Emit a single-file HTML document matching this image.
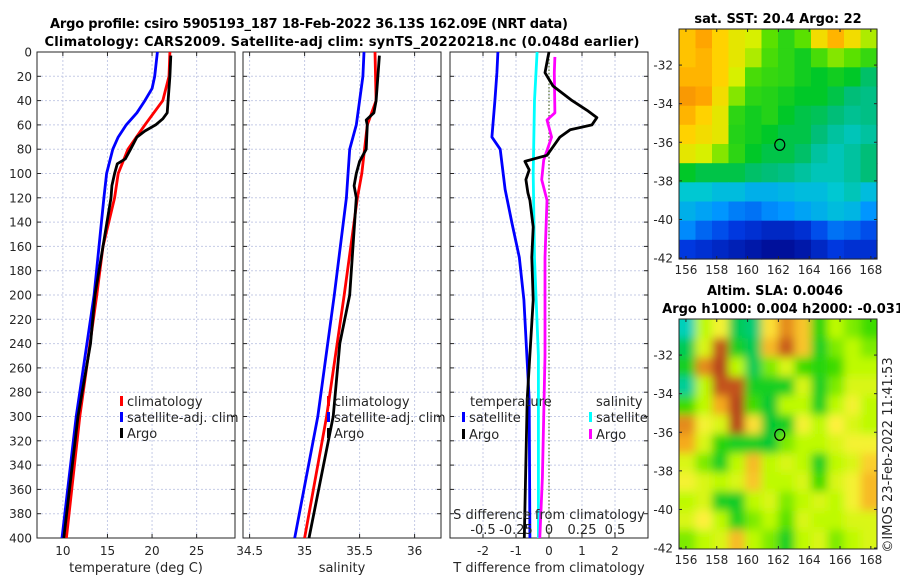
<!DOCTYPE html>
<html><head><meta charset="utf-8"><style>
html,body{margin:0;padding:0;background:#fff;}
svg{display:block;font-family:"DejaVu Sans","Liberation Sans",sans-serif;}
</style></head><body>
<svg id="chart" width="900" height="580" viewBox="0 0 900 580" xmlns="http://www.w3.org/2000/svg">
<defs>
<filter id="blur" x="0" y="0" width="1" height="1"><feGaussianBlur stdDeviation="4.5"/></filter>
<clipPath id="clipSla"><rect x="679" y="319" width="198" height="230"/></clipPath>
</defs>
<g id="layer"></g>
</svg>
<script>
// ----- profile data -----
const depthRed = [0,20,40,60,80,100,120,160,200,300,400];
const tempClim = [22.0,21.9,21.2,19.2,17.3,16.2,15.8,14.5,13.8,11.9,10.4];
const depthBlue = [0,20,30,40,50,60,70,80,100,120,200,300,400];
const tempSat = [20.6,20.3,20.0,19.2,18.3,17.1,16.2,15.6,14.9,14.6,13.5,11.5,9.9];
const depthArgo = [3,20,50,55,60,65,70,80,88,92,100,110,120,160,200,240,300,400];
const tempArgo = [22.1,22.0,21.7,21.2,20.4,19.2,18.3,17.6,17.0,16.1,15.8,15.5,15.4,14.5,13.6,13.1,11.7,10.1];

const salDepthClim = [0,40,60,100,120,200,300,400];
const salClim = [35.64,35.65,35.57,35.52,35.48,35.36,35.2,35.0];
const salDepthSat = [0,20,60,80,120,200,300,400];
const salSat = [35.54,35.53,35.47,35.41,35.38,35.27,35.12,34.91];
const salDepthArgo = [3,40,50,56,60,80,90,100,110,120,200,240,300,400];
const salArgo = [35.68,35.65,35.63,35.56,35.57,35.56,35.50,35.47,35.45,35.47,35.41,35.32,35.26,35.04];

const dDepthTsat = [0,17,40,70,80,113,141,169,204,286,400];
const dTsat = [-1.55,-1.58,-1.64,-1.73,-1.48,-1.33,-1.12,-0.9,-0.76,-0.6,-0.58];
const dDepthTargo = [0,4,17,28,40,48,54,60,64,70,85,90,97,105,116,122,144,169,204,286,400];
const dTargo = [0,-0.03,-0.12,0.12,0.7,1.15,1.45,1.3,0.64,0.33,-0.06,-0.73,-0.6,-0.7,-0.64,-0.58,-0.48,-0.52,-0.48,-0.66,-0.75];
const dDepthSsat = [0,40,100,170,250,330,400];
const dSsat = [-0.09,-0.11,-0.12,-0.11,-0.08,-0.08,-0.08];
const dDepthSargo = [4,17,50,56,70,89,105,122,169,250,300,350,400];
const dSargo = [0.045,0.04,0.045,-0.015,0.02,-0.04,-0.055,-0.015,-0.03,-0.03,-0.04,-0.05,-0.07];

const depthTicks = [0,20,40,60,80,100,120,140,160,180,200,220,240,260,280,300,320,340,360,380,400];
const tempTicks = [10,15,20,25];
const salTicks = [34.5,35,35.5,36];
const dTTicks = [-2,-1,0,1,2];
const dSTicks = [-0.5,-0.25,0,0.25,0.5];
const dSTickLabels = ["-0.5","-0.25","0","0.25","0.5"];

// ----- map data (colormap index 0..1) -----
const lonTicks = [156,158,160,162,164,166,168];
const latTicks = [-32,-34,-36,-38,-40,-42];
const sstGrid = [
[.74,.78,.72,.68,.66,.6,.55,.6,.7,.76,.7,.64],
[.74,.76,.72,.68,.64,.58,.55,.52,.58,.62,.6,.56],
[.76,.76,.72,.66,.58,.56,.55,.52,.5,.52,.5,.46],
[.8,.78,.7,.62,.55,.54,.52,.5,.5,.48,.45,.44],
[.76,.72,.68,.55,.52,.54,.5,.48,.47,.45,.43,.44],
[.72,.7,.68,.54,.52,.5,.48,.48,.45,.42,.4,.42],
[.68,.66,.62,.55,.5,.48,.48,.46,.42,.4,.42,.45],
[.5,.48,.48,.48,.46,.45,.44,.42,.4,.4,.42,.45],
[.38,.38,.36,.36,.34,.34,.35,.36,.36,.38,.4,.36],
[.34,.32,.3,.26,.24,.28,.3,.32,.34,.36,.35,.3],
[.28,.22,.18,.14,.12,.1,.1,.12,.18,.24,.22,.18],
[.14,.12,.1,.08,.06,.04,.04,.06,.1,.14,.12,.12]];
const slaGrid = [
[.05,.5,.6,.2,.15,.65,.8,.7,.35,.5,.45,.4],
[.2,.55,.9,.3,.2,.72,.88,.7,.3,.45,.5,.45],
[.3,.8,.95,.5,.2,.45,.55,.4,.35,.4,.5,.5],
[.1,.5,.9,.9,.3,.3,.3,.55,.3,.45,.55,.55],
[.4,.5,.75,.95,.4,.25,.5,.5,.3,.5,.6,.5],
[.8,.6,.55,.95,.65,.25,.3,.6,.5,.62,.55,.5],
[.75,.55,.35,.3,.3,.25,.45,.5,.5,.55,.6,.6],
[.55,.45,.3,.5,.72,.5,.55,.5,.3,.5,.55,.68],
[.6,.55,.5,.55,.7,.5,.5,.55,.4,.55,.6,.72],
[.5,.55,.3,.28,.5,.55,.45,.5,.55,.5,.6,.72],
[.55,.62,.5,.32,.45,.5,.42,.55,.5,.5,.55,.55],
[.45,.5,.55,.72,.5,.45,.3,.5,.55,.45,.5,.55]];
const argoLon = 162.09, argoLat = -36.13;

const NS = "http://www.w3.org/2000/svg";
const root = document.getElementById('layer');
function mk(tag, attrs, parent){const e=document.createElementNS(NS,tag);for(const k in attrs)e.setAttribute(k,attrs[k]);(parent||root).appendChild(e);return e;}
function txt(s,x,y,attrs,parent){const e=mk('text',Object.assign({x:x,y:y,'font-size':12,fill:'#262626'},attrs||{}),parent);e.textContent=s;return e;}

const PT=52, PB=538;
const yD = d => PT + (d/400)*(PB-PT);
const panels = [
 {name:'temperature-panel',x0:37,x1:235,min:7.1,max:29.3,ticks:tempTicks,labels:tempTicks.map(String),title:'temperature (deg C)'},
 {name:'salinity-panel',x0:243,x1:441,min:34.44,max:36.24,ticks:salTicks,labels:['34.5','35','35.5','36'],title:'salinity'},
 {name:'difference-panel',x0:450,x1:648,min:-3,max:3,ticks:dTTicks,labels:dTTicks.map(String),title:'T difference from climatology'}
];
panels.forEach(p=>{p.sx=v=>p.x0+(v-p.min)/(p.max-p.min)*(p.x1-p.x0);});

panels.forEach((p,i)=>{
  const g=mk('g',{});
  
  
  mk('rect',{x:p.x0,y:PT,width:p.x1-p.x0,height:PB-PT,fill:'#fff'},g);
  depthTicks.forEach(d=>{
    if(d>0&&d<400) mk('line',{x1:p.x0,x2:p.x1,y1:yD(d),y2:yD(d),stroke:'#c5cbe6','stroke-width':1,'stroke-dasharray':'2,2'},g);
    mk('line',{x1:p.x0,x2:p.x0+4,y1:yD(d),y2:yD(d),stroke:'#262626'},g);
    mk('line',{x1:p.x1,x2:p.x1-4,y1:yD(d),y2:yD(d),stroke:'#262626'},g);
  });
  p.ticks.forEach((t,k)=>{
    const x=p.sx(t);
    mk('line',{x1:x,x2:x,y1:PT,y2:PB,stroke:'#c5cbe6','stroke-dasharray':'2,2'},g);
    mk('line',{x1:x,x2:x,y1:PB,y2:PB-4,stroke:'#262626'},g);
    mk('line',{x1:x,x2:x,y1:PT,y2:PT+4,stroke:'#262626'},g);
    const l=txt(p.labels[k],x,555,{'text-anchor':'middle'},g);
    
    
  });
  const t=txt(p.title,(p.x0+p.x1)/2,572,{'text-anchor':'middle','font-size':13},g);
  
  
  mk('rect',{x:p.x0,y:PT,width:p.x1-p.x0,height:PB-PT,fill:'none',stroke:'#262626','stroke-width':1},g);
});
depthTicks.forEach(d=>{
  const l=txt(String(d),32,yD(d)+4.5,{'text-anchor':'end'});
  
  
});
const zl=mk('line',{x1:panels[2].sx(0),x2:panels[2].sx(0),y1:PT,y2:PB,stroke:'#556b2f','stroke-width':1.2,'stroke-dasharray':'1.5,2'});



function line(name,depths,vals,sx,color){
  const pts=depths.map((d,i)=>sx(vals[i]).toFixed(1)+','+yD(d).toFixed(1)).join(' ');
  const e=mk('polyline',{points:pts,fill:'none',stroke:color,'stroke-width':2.8,'stroke-linejoin':'round'});
  
  
}
const P1=panels[0].sx, P2=panels[1].sx, P3=panels[2].sx;
const PS=v=>P3(v*4);
line('temp-climatology-line',depthRed,tempClim,P1,'#ff0000');
line('temp-satellite-line',depthBlue,tempSat,P1,'#0000ff');
line('temp-argo-line',depthArgo,tempArgo,P1,'#000000');
line('sal-climatology-line',salDepthClim,salClim,P2,'#ff0000');
line('sal-satellite-line',salDepthSat,salSat,P2,'#0000ff');
line('sal-argo-line',salDepthArgo,salArgo,P2,'#000000');
line('tdiff-satellite-line',dDepthTsat,dTsat,P3,'#0000ff');
line('sdiff-satellite-line',dDepthSsat,dSsat,PS,'#00ffff');
line('sdiff-argo-line',dDepthSargo,dSargo,PS,'#ff00ff');
line('tdiff-argo-line',dDepthTargo,dTargo,P3,'#000000');

const st=txt('S difference from climatology',549,519,{'text-anchor':'middle','font-size':13});


dSTicks.forEach((s,i)=>{
  const l=txt(dSTickLabels[i],PS(s),534,{'text-anchor':'middle','font-size':13});
  
  
});

function legend(x,y,color,label){
  const g=mk('g',{});
  
  
  mk('rect',{x:x,y:y-9,width:3,height:10,fill:color},g);
  txt(label,x+7,y+1,{'font-size':13},g);
}
legend(120,405,'#ff0000','climatology');
legend(120,421,'#0000ff','satellite-adj. clim');
legend(120,437,'#000000','Argo');
legend(327,405,'#ff0000','climatology');
legend(327,421,'#0000ff','satellite-adj. clim');
legend(327,437,'#000000','Argo');
const lt=txt('temperature',470,406,{'font-size':13});


const ls=txt('salinity',596,406,{'font-size':13});


legend(462,421,'#0000ff','satellite');
legend(462,438,'#000000','Argo');
legend(589,421,'#00ffff','satellite');
legend(589,438,'#ff00ff','Argo');

const t1=txt('Argo profile: csiro 5905193_187 18-Feb-2022 36.13S 162.09E (NRT data)',309,28,{'text-anchor':'middle','font-size':13,'font-weight':'bold',fill:'#000','textLength':518});


const t2=txt('Climatology: CARS2009. Satellite-adj clim: synTS_20220218.nc (0.048d earlier)',342,46,{'text-anchor':'middle','font-size':13,'font-weight':'bold',fill:'#000','textLength':595});



// ----- maps -----
function lerpColor(stops,v){
  v=Math.max(0,Math.min(1,v));
  for(let i=1;i<stops.length;i++){ if(v<=stops[i][0]){const a=stops[i-1],b=stops[i];const f=(v-a[0])/(b[0]-a[0]);
    const c=[0,1,2].map(k=>Math.round(a[1][k]+(b[1][k]-a[1][k])*f));return 'rgb('+c.join(',')+')';}}
  return 'rgb('+stops[stops.length-1][1].join(',')+')';
}
const sstStops=[[0,[0,0,128]],[0.15,[0,60,230]],[0.3,[0,150,255]],[0.38,[0,200,210]],[0.45,[0,190,120]],[0.5,[0,200,40]],[0.6,[90,225,0]],[0.66,[215,240,0]],[0.72,[255,210,0]],[0.78,[255,165,0]],[0.9,[220,90,20]],[1,[180,40,20]]];
const slaStops=[[0,[0,210,220]],[0.25,[0,200,50]],[0.4,[60,220,0]],[0.5,[190,250,0]],[0.62,[255,240,60]],[0.75,[245,170,30]],[0.88,[200,90,30]],[1,[170,50,30]]];
const LON0=155.55,LON1=168.4,LATTOP=-30.13,LATBOT=-42.05,MX0=679,MX1=877;
function drawMap(name,grid,stops,y0,y1,blur){
  const g=mk('g',{});
  
  
  const sx=lon=>MX0+(lon-LON0)/(LON1-LON0)*(MX1-MX0);
  const sy=lat=>y0+(LATTOP-lat)/(LATTOP-LATBOT)*(y1-y0);
  const rows=grid.length, cols=grid[0].length;
  const cg=mk('g',blur?{'clip-path':'url(#clipSla)'}:{},g);
  const inner=mk('g',blur?{filter:'url(#blur)'}:{},cg);
  const cw=(MX1-MX0)/cols, ch=(y1-y0)/rows;
  if(blur){ mk('rect',{x:MX0-20,y:y0-20,width:MX1-MX0+40,height:y1-y0+40,fill:lerpColor(stops,0.5)},inner); }
  grid.forEach((row,r)=>row.forEach((v,c)=>{
    const x=MX0+c*cw, y=y0+r*ch;
    const w=(blur&&c===cols-1)?cw+20:cw, h=(blur&&r===rows-1)?ch+20:ch;
    const xx=(blur&&c===0)?x-20:x, yy=(blur&&r===0)?y-20:y;
    const cell=mk('rect',{x:xx.toFixed(1),y:yy.toFixed(1),width:(w+(xx<x?20:0)+0.6).toFixed(1),height:(h+(yy<y?20:0)+0.6).toFixed(1),fill:lerpColor(stops,v)},inner);
    
    
  }));
  mk('rect',{x:MX0,y:y0,width:MX1-MX0,height:y1-y0,fill:'none',stroke:'#262626'},g);
  lonTicks.forEach(l=>{const x=sx(l);
    mk('line',{x1:x,x2:x,y1:y1,y2:y1-3,stroke:'#262626'},g);
    mk('line',{x1:x,x2:x,y1:y0,y2:y0+3,stroke:'#262626'},g);
    const t=txt(String(l),x,y1+15,{'text-anchor':'middle'},g);
    
    
  });
  latTicks.forEach(l=>{const y=sy(l);
    mk('line',{x1:MX0,x2:MX0+3,y1:y,y2:y,stroke:'#262626'},g);
    mk('line',{x1:MX1,x2:MX1-3,y1:y,y2:y,stroke:'#262626'},g);
    const t=txt(String(l),673,y+4.5,{'text-anchor':'end'},g);
    
    
  });
  const m=mk('ellipse',{cx:sx(argoLon),cy:sy(argoLat),rx:5,ry:5.5,fill:'none',stroke:'#000','stroke-width':1.2},g);
  
  
}
drawMap('sst-map',sstGrid,sstStops,29,259,false);
drawMap('sla-map',slaGrid,slaStops,319,549,true);

const m1=txt('sat. SST: 20.4 Argo: 22',778,23,{'text-anchor':'middle','font-size':13,'font-weight':'bold',fill:'#000'});


const m2=txt('Altim. SLA: 0.0046',775,295,{'text-anchor':'middle','font-size':13,'font-weight':'bold',fill:'#000'});


const m3=txt('Argo h1000: 0.004 h2000: -0.031',783,313,{'text-anchor':'middle','font-size':13,'font-weight':'bold',fill:'#000'});


const cp=txt('©IMOS 23-Feb-2022 11:41:53',0,0,{'text-anchor':'middle','font-size':13,transform:'translate(892,455) rotate(-90)'});


</script>
</body></html>
